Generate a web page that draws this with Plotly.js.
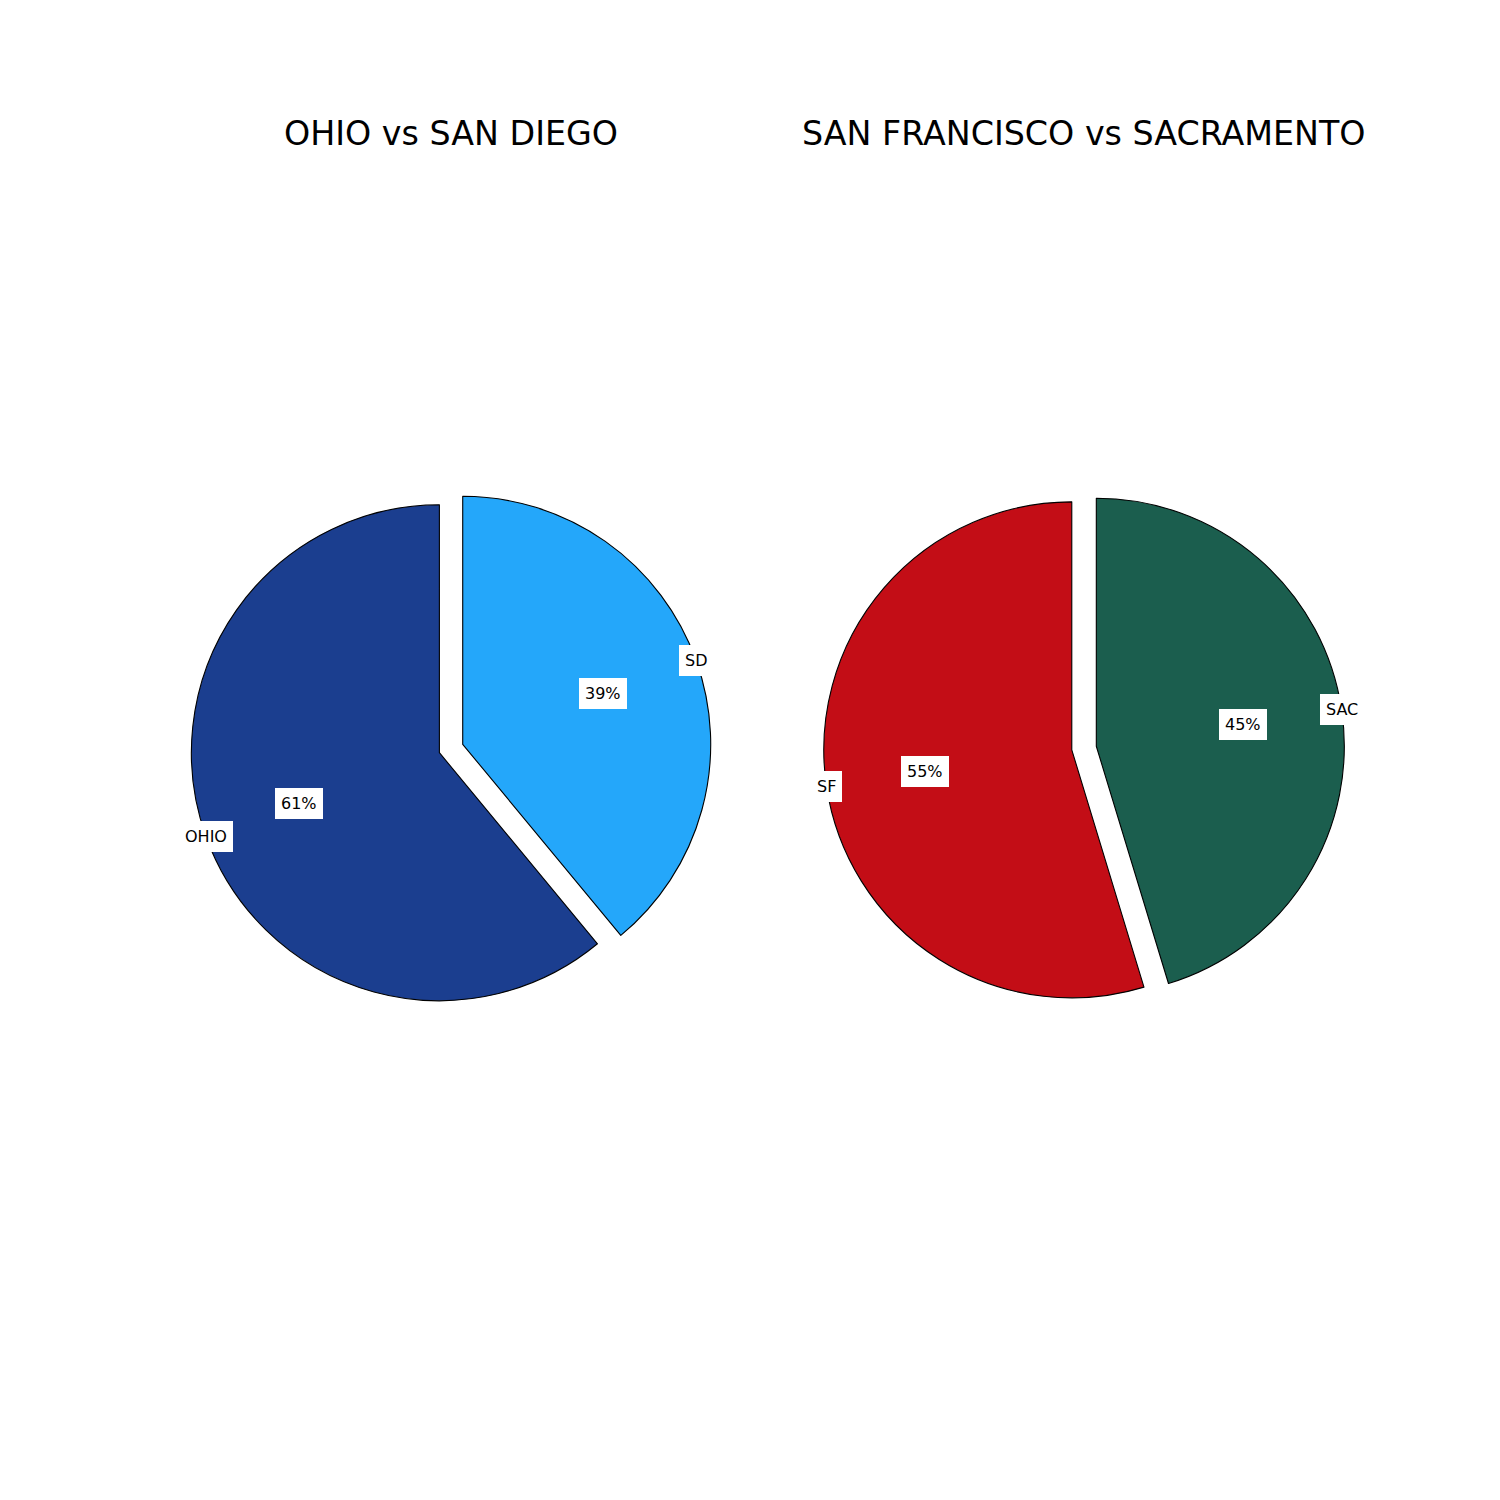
<!DOCTYPE html>
<html>
<head>
<meta charset="utf-8">
<script src="https://cdn.plot.ly/plotly-3.0.1.min.js"></script>
<style>html,body{margin:0;padding:0;background:#fff;}</style>
</head>
<body>
<div id="chart" style="width:1500px;height:1500px;"></div>
<script>
// Data
const titles = ["OHIO vs SAN DIEGO", "SAN FRANCISCO vs SACRAMENTO"];
const labelsLeft = ["OHIO", "SD"];
const valuesLeft = [61, 39];
const colorsLeft = ["#1b3e8f", "#24a7fa"];
const labelsRight = ["SF", "SAC"];
const valuesRight = [54.7, 45.3];
const colorsRight = ["#c30d16", "#1b5e4e"];

const W = 1500, H = 1500;
const pull = 0.05;
const pies = [
  {labels: labelsLeft, values: valuesLeft, colors: colorsLeft, domain: {x: [0.1271, 0.4743], y: [0.3274, 0.6746]}},
  {labels: labelsRight, values: valuesRight, colors: colorsRight, domain: {x: [0.5491, 0.8963], y: [0.3277, 0.6749]}}
];

const font = "DejaVu Sans, Verdana, sans-serif";
const data = [];
const annotations = [];

pies.forEach((p, k) => {
  const total = p.values.reduce((a, b) => a + b, 0);
  // Plotly's counterclockwise pies end the first slice at the rotation angle;
  // rotate so the first slice starts at 12 o'clock and runs counterclockwise.
  const rot = -360 * p.values[0] / total;
  data.push({
    type: "pie",
    labels: p.labels,
    values: p.values,
    sort: false,
    direction: "counterclockwise",
    rotation: rot,
    pull: p.values.map(() => pull),
    textinfo: "none",
    hoverinfo: "none",
    showlegend: false,
    marker: {colors: p.colors, line: {color: "#000000", width: 1.1}},
    domain: p.domain
  });
  const cx = (p.domain.x[0] + p.domain.x[1]) / 2;
  const cy = (p.domain.y[0] + p.domain.y[1]) / 2;
  const sizePx = Math.min((p.domain.x[1] - p.domain.x[0]) * W, (p.domain.y[1] - p.domain.y[0]) * H);
  const R = sizePx / (2 + 2 * pull);
  let cum = 0;
  p.values.forEach((v, i) => {
    const mid = (90 + 360 * (cum + v / 2) / total) * Math.PI / 180;
    cum += v;
    const pct = Math.round(100 * v / total) + "%";
    [[p.labels[i], 1.0 + pull], [pct, 0.6 + pull]].forEach(([txt, f]) => {
      annotations.push({
        xref: "paper", yref: "paper",
        x: cx + f * R * Math.cos(mid) / W,
        y: cy + f * R * Math.sin(mid) / H,
        xanchor: "center", yanchor: "middle",
        text: txt, showarrow: false,
        bgcolor: "#ffffff", borderpad: 6, borderwidth: 0,
        font: {family: font, size: 16, color: "#000000"}
      });
    });
  });
  annotations.push({
    xref: "paper", yref: "paper",
    x: cx, y: 1 - 133 / H,
    xanchor: "center", yanchor: "middle",
    text: titles[k], showarrow: false,
    font: {family: font, size: 33.3, color: "#000000"}
  });
});

const layout = {
  width: W, height: H,
  margin: {l: 0, r: 0, t: 0, b: 0},
  paper_bgcolor: "#ffffff",
  plot_bgcolor: "#ffffff",
  showlegend: false,
  annotations: annotations
};

Plotly.newPlot("chart", data, layout, {displayModeBar: false, staticPlot: true});
</script>
</body>
</html>
